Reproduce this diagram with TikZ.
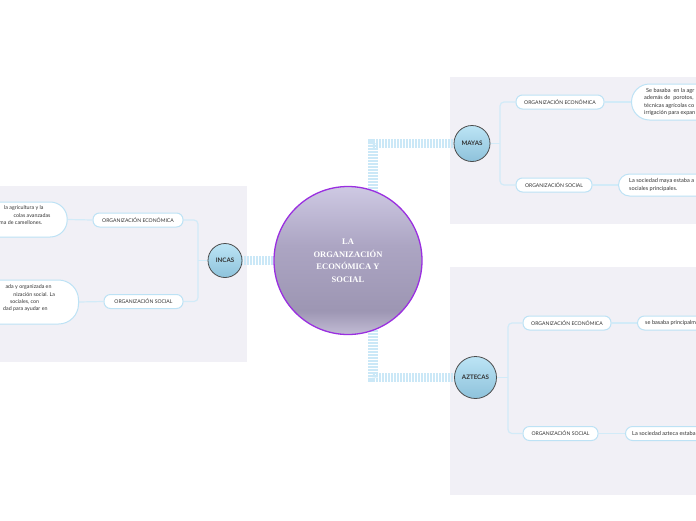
\documentclass[tikz,border=0pt]{standalone}
\usepackage{fontspec}
\setmainfont{Lato}
\newfontfamily\titlefont{Liberation Serif}
\usetikzlibrary{calc}
\definecolor{panel}{HTML}{F1F0F6}
\definecolor{bandc}{HTML}{CBE8F7}
\definecolor{connc}{HTML}{D2EBF8}
\definecolor{boxb}{HTML}{BDE2F5}
\definecolor{txt}{HTML}{333333}
\definecolor{ctop}{HTML}{CEC9E3}
\definecolor{cmid}{HTML}{ACA5C3}
\definecolor{cdark}{HTML}{9D96B3}
\definecolor{cbot}{HTML}{C2BCD5}
\definecolor{btop}{HTML}{BCE4F5}
\definecolor{bbot}{HTML}{8EC2DB}
\definecolor{purp}{HTML}{9A2FE0}
\pgfdeclareverticalshading{censhade}{100bp}{color(0bp)=(cbot); color(25bp)=(cbot); color(33bp)=(cdark); color(55bp)=(cmid); color(75bp)=(ctop); color(100bp)=(ctop)}
\pgfdeclareverticalshading{topicshade}{100bp}{color(0bp)=(bbot); color(25bp)=(bbot); color(75bp)=(btop); color(100bp)=(btop)}
\pgfdeclarelayer{back}
\pgfdeclarelayer{mid}
\pgfsetlayers{back,mid,main}
\begin{document}
\begin{tikzpicture}[x=1pt,y=-1pt,
 centre/.style={circle, draw=purp, line width=1.3pt, shading=censhade, minimum size=148pt, inner sep=0pt, text=white, font=\titlefont\bfseries\fontsize{8.5}{12.5}\selectfont, align=center},
 topic/.style={circle, draw=black!70, line width=0.8pt, shading=topicshade, inner sep=0pt, font=\fontsize{6.2}{7}\selectfont\bfseries, text=txt},
 sub/.style={draw=boxb, line width=1pt, fill=white, rounded corners=6.5pt, minimum height=14pt, inner sep=0pt, font=\fontsize{5.1}{6}\selectfont, text=txt},
 tbox/.style={draw=boxb, line width=1pt, fill=white, inner sep=0pt},
 tline/.style={inner sep=0pt, font=\fontsize{5.6}{6.5}\selectfont, text=txt},
 lline/.style={inner sep=0pt, font=\fontsize{5.3}{6}\selectfont, text=txt},
 band/.style={line width=9.5pt, draw=bandc, dash pattern=on 2pt off 1pt},
 conn/.style={line width=1.2pt, draw=connc},
]
\useasboundingbox (0,0) rectangle (696,520);
\begin{pgfonlayer}{back}
\fill[panel] (0,186) rectangle (247,362);
\fill[panel] (450,77) rectangle (696,224);
\fill[panel] (450,267) rectangle (696,495);
\end{pgfonlayer}

% main nodes
\node[centre] (c) at (348,260.5) {LA\\ORGANIZACIÓN\\ECONÓMICA Y\\SOCIAL};
\node[topic, minimum size=34pt] (incas) at (225,260.5) {INCAS};
\node[topic, minimum size=36pt] (mayas) at (472,143.5) {MAYAS};
\node[topic, minimum size=42pt] (azt) at (475.5,377.5) {AZTECAS};

% sub nodes
\node[sub, minimum width=90pt] (ie) at (138,220) {ORGANIZACIÓN ECONÓMICA};
\node[sub, minimum width=79pt] (is) at (143.5,301.5) {ORGANIZACIÓN SOCIAL};
\node[sub, minimum width=88pt] (me) at (560,102) {ORGANIZACIÓN ECONÓMICA};
\node[sub, minimum width=76pt] (ms) at (554,185) {ORGANIZACIÓN SOCIAL};
\node[sub, minimum width=88pt] (ae) at (567,323) {ORGANIZACIÓN ECONÓMICA};
\node[sub, minimum width=75pt] (as) at (560.5,433.5) {ORGANIZACIÓN SOCIAL};

% text boxes
\node[tbox, rounded corners=17pt, minimum width=130pt, minimum height=35pt, anchor=east] (iet) at (67.7,219.5) {};
\node[tbox, rounded corners=20pt, minimum width=140pt, minimum height=44pt, anchor=east] (ist) at (79,302) {};
\node[tbox, rounded corners=18pt, minimum width=120pt, minimum height=36pt, anchor=west] (met) at (631,102) {};
\node[tbox, rounded corners=11pt, minimum width=120pt, minimum height=22pt, anchor=west] (mst) at (618,185) {};
\node[tbox, rounded corners=7pt, minimum width=100pt, minimum height=14pt, anchor=west] (aet) at (637,323) {};
\node[tbox, rounded corners=7pt, minimum width=100pt, minimum height=14pt, anchor=west] (ast) at (625,433.5) {};

% text lines left
\node[lline, anchor=east] (l1) at (43.7,208) {la agricultura y la};
\node[lline, anchor=east] (l2) at (50.7,215.7) {colas avanzadas};
\node[lline, anchor=east] (l3) at (42.3,222.7) {ma de camellones.};
\node[lline, anchor=east] (l4) at (51.7,287.3) {ada y organizada en};
\node[lline, anchor=east] (l5) at (55.3,294.5) {nización social. La};
\node[lline, anchor=east] (l6) at (39.3,302) {sociales, con};
\node[lline, anchor=east] (l7) at (47.7,309.3) {dad para ayudar en};

% text lines right
\node[tline, anchor=west] (r1) at (646,90.7) {Se basaba \ en la agr};
\node[tline, anchor=west] (r2) at (644,98.3) {además de \ porotos,};
\node[tline, anchor=west] (r3) at (644,105.7) {técnicas agrícolas co};
\node[tline, anchor=west] (r4) at (644,113.3) {irrigación para expan};
\node[tline, anchor=west] (r5) at (629,181.3) {La sociedad maya estaba a};
\node[tline, anchor=west] (r6) at (629,189) {sociales principales.};
\node[tline, anchor=west] (r7) at (645,323.3) {se basaba principalm};
\node[tline, anchor=west] (r8) at (632,433.3) {La sociedad azteca estaba};

\begin{pgfonlayer}{mid}
\draw[band] (c.center) -- (incas.east);
\draw[band] ($(c.center)+(25,0)$) |- (mayas.west);
\draw[band] ($(c.center)+(25,0)$) |- (azt.west);

\coordinate (ij) at (198,260.5);
\draw[conn] (incas.west) -- (ij);
\draw[conn, rounded corners=4pt] (ie.east) -| (ij) |- (is.east);
\draw[conn] (ie.west) -- (iet.east);
\draw[conn] (is.west) -- (ist.east);

\coordinate (mj) at (500,143.5);
\draw[conn] (mayas.east) -- (mj);
\draw[conn, rounded corners=4pt] (me.west) -| (mj) |- (ms.west);
\draw[conn] (me.east) -- (met.west);
\draw[conn] (ms.east) -- (mst.west);

\coordinate (aj) at (508,377.5);
\draw[conn] (azt.east) -- (aj);
\draw[conn, rounded corners=4pt] (ae.west) -| (aj) |- (as.west);
\draw[conn] (ae.east) -- (aet.west);
\draw[conn] (as.east) -- (ast.west);
\end{pgfonlayer}
\end{tikzpicture}
\end{document}
